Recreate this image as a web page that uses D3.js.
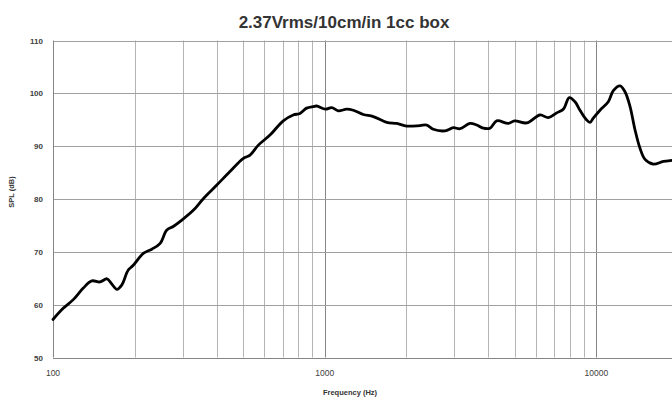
<!DOCTYPE html>
<html>
<head>
<meta charset="utf-8">
<script src="https://cdn.jsdelivr.net/npm/d3@7"></script>
<style>
  html, body { margin: 0; padding: 0; background: #fff; }
  svg { display: block; }
</style>
</head>
<body>
<svg id="chart" width="672" height="401"></svg>
<script>
const title = "2.37Vrms/10cm/in 1cc box";
const xLabel = "Frequency (Hz)";
const yLabel = "SPL (dB)";
const freqs = [100,109,119,129,139,149,158,164,172,179,189,197,215,231,248,262,277,298,329,358,400,448,502,531,570,629,704,766,811,858,908,934,1006,1061,1122,1205,1274,1387,1510,1692,1841,2004,2243,2374,2510,2773,2974,3148,3425,3625,3834,4059,4296,4740,5000,5540,6200,6653,7143,7554,7950,8342,8700,9155,9471,9740,10310,11060,11540,12220,12740,13300,13870,14470,15100,16200,17630,18970,20000];
const spl = [57.2,59.3,61.0,63.1,64.5,64.3,64.9,64.0,62.9,63.7,66.5,67.4,69.7,70.5,71.6,74.1,74.8,76.0,77.9,80.1,82.6,85.2,87.7,88.3,90.2,92.1,94.8,95.9,96.2,97.2,97.5,97.6,97.0,97.3,96.7,97.0,96.8,96.0,95.6,94.5,94.3,93.8,93.9,94.0,93.2,92.9,93.5,93.3,94.3,94.0,93.4,93.4,94.8,94.3,94.8,94.4,95.9,95.4,96.3,97.0,99.2,98.4,96.8,95.1,94.5,95.3,96.8,98.4,100.5,101.4,100.3,97.5,93.1,89.6,87.5,86.6,87.1,87.3,87.4];
const yTicks = [50,60,70,80,90,100,110];
const xTickLabels = [100,1000,10000];
const xDomain = [100,20000];
const yDomain = [50,110];

(function () {
const svg = d3.select("#chart");
const pLeft = 53, pTop = 40.5, pBottom = 357.5;
const pRight = pLeft + 271.7 * Math.log10(xDomain[1]/xDomain[0]);

const x = d3.scaleLog().domain(xDomain).range([pLeft, pRight]);
const y = d3.scaleLinear().domain(yDomain).range([pBottom, pTop]);

const vlines = [];
for (let d = 100; d <= 10000; d *= 10) {
  for (let m = 1; m <= 9; m++) vlines.push(d*m);
}
vlines.push(20000);
const isMajor = v => Math.abs(Math.log10(v) - Math.round(Math.log10(v))) < 1e-9;
const grid = svg.append("g");
grid.selectAll("line.v").data(vlines.filter(v => v > 100)).join("line")
  .attr("x1", d => Math.round(x(d)) + 0.5).attr("x2", d => Math.round(x(d)) + 0.5)
  .attr("y1", pTop).attr("y2", pBottom)
  .attr("stroke", d => isMajor(d) ? "#858585" : "#b4b4b4")
  .attr("stroke-width", 1);

grid.selectAll("line.h").data(yTicks.filter(t => t > 50)).join("line")
  .attr("x1", pLeft).attr("x2", pRight)
  .attr("y1", d => Math.round(y(d)) + 0.5).attr("y2", d => Math.round(y(d)) + 0.5)
  .attr("stroke", "#a0a0a0").attr("stroke-width", 1);

svg.append("line").attr("x1", pLeft + 0.5).attr("x2", pLeft + 0.5).attr("y1", pTop).attr("y2", pBottom)
  .attr("stroke", "#858585");
svg.append("line").attr("x1", pLeft).attr("x2", pRight).attr("y1", Math.round(pBottom)+0.5).attr("y2", Math.round(pBottom)+0.5)
  .attr("stroke", "#858585");

svg.append("g").selectAll("text").data(yTicks).join("text")
  .attr("x", 43).attr("y", d => y(d) + 3)
  .attr("text-anchor", "end")
  .attr("font-family", "Liberation Sans, Arial, sans-serif")
  .attr("font-size", 8).attr("font-weight", "bold").attr("fill", "#404040")
  .text(d => d);

svg.append("g").selectAll("text").data(xTickLabels).join("text")
  .attr("x", d => x(d)).attr("y", 376)
  .attr("text-anchor", "middle")
  .attr("font-family", "Liberation Sans, Arial, sans-serif")
  .attr("font-size", 8.5).attr("fill", "#404040")
  .text(d => d);

svg.append("text").attr("x", 344).attr("y", 28).attr("text-anchor", "middle")
  .attr("font-family", "Liberation Sans, Arial, sans-serif")
  .attr("font-size", 17).attr("font-weight", "bold").attr("fill", "#333")
  .text(title);

svg.append("text").attr("x", 350).attr("y", 395).attr("text-anchor", "middle")
  .attr("font-family", "Liberation Sans, Arial, sans-serif")
  .attr("font-size", 7.5).attr("font-weight", "bold").attr("fill", "#333")
  .text(xLabel);
svg.append("text").attr("transform", "translate(14,192) rotate(-90)").attr("text-anchor", "middle")
  .attr("font-family", "Liberation Sans, Arial, sans-serif")
  .attr("font-size", 7.5).attr("font-weight", "bold").attr("fill", "#333")
  .text(yLabel);

const pts = freqs.map((f, i) => [f, spl[i]]);
const line = d3.line().x(d => x(d[0])).y(d => y(d[1])).curve(d3.curveCatmullRom.alpha(0.5));
svg.append("path").datum(pts).attr("d", line)
  .attr("fill", "none").attr("stroke", "#000").attr("stroke-width", 2.8)
  .attr("stroke-linejoin", "round").attr("stroke-linecap", "round");
})();
</script>
</body>
</html>
